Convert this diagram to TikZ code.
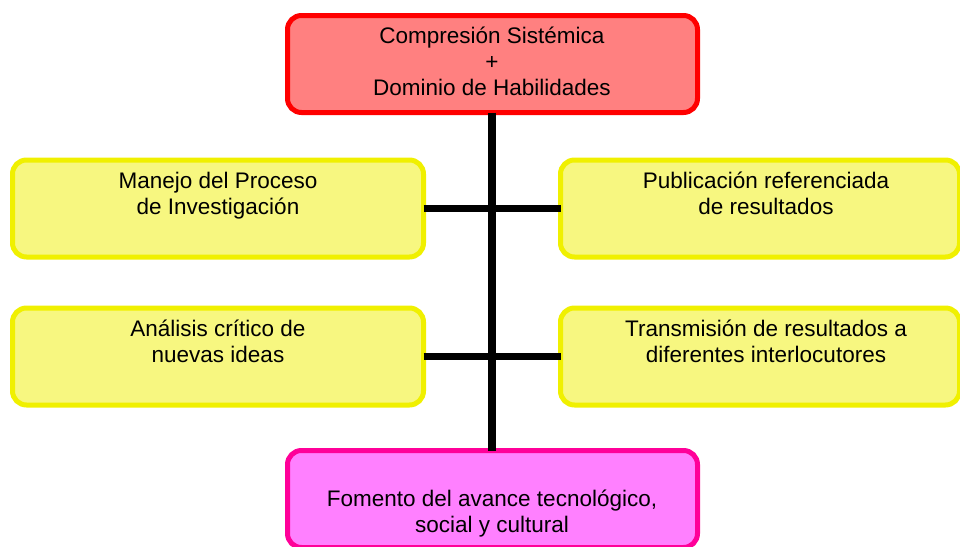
\documentclass[tikz,border=0pt]{standalone}
\usepackage{fontspec}
\setmainfont{Liberation Sans}
\definecolor{redfill}{HTML}{FF8080}
\definecolor{redline}{HTML}{FF0000}
\definecolor{yelfill}{HTML}{F7F780}
\definecolor{yelline}{HTML}{F0F000}
\definecolor{magfill}{HTML}{FF80FF}
\definecolor{magline}{HTML}{FF0099}
\begin{document}
\begin{tikzpicture}[x=1pt,y=-1pt,
  boxshape/.style={rectangle,rounded corners=14pt,line width=5pt,inner sep=0pt,outer sep=0pt,minimum width=411pt,minimum height=97pt},
  redbox/.style={boxshape,draw=redline,fill=redfill},
  yelbox/.style={boxshape,draw=yelline,fill=yelfill},
  magbox/.style={boxshape,draw=magline,fill=magfill},
  lbl/.style={font=\fontsize{22.5}{25.7}\selectfont,align=center,anchor=base,inner sep=0pt},
  conn/.style={line width=7.5pt}]
\useasboundingbox (0,0) rectangle (960,546);
\clip (0,0) rectangle (960,546);
\node[redbox,minimum width=410pt] (top) at (492.5,64) {};
\node[magbox,minimum width=410pt] (bot) at (492.5,499) {};
\node[yelbox] (l1) at (218,208.5) {};
\node[yelbox,minimum width=399pt] (r1) at (760,208.5) {};
\node[yelbox] (l2) at (218,356.5) {};
\node[yelbox,minimum width=399pt] (r2) at (760,356.5) {};
\coordinate (j1) at (492,208.5);
\draw[conn] (top.south -| j1) -- (bot.north -| j1);
\draw[conn] (l1.east) -- (r1.west);
\draw[conn] (l2.east) -- (r2.west);
\node[lbl] (ttop) at (492,95) {Compresión Sistémica\\+\\Dominio de Habilidades};
\node[lbl] (tl1) at (218,214.5) {Manejo del Proceso\\de Investigación};
\node[lbl] (tr1) at (766,214.5) {Publicación referenciada\\de resultados};
\node[lbl] (tl2) at (218,362.5) {Análisis crítico de\\nuevas ideas};
\node[lbl] (tr2) at (766,362.5) {Transmisión de resultados a\\diferentes interlocutores};
\node[lbl] (tbot) at (492,532) {Fomento del avance tecnológico,\\social y cultural};
\end{tikzpicture}
\end{document}
